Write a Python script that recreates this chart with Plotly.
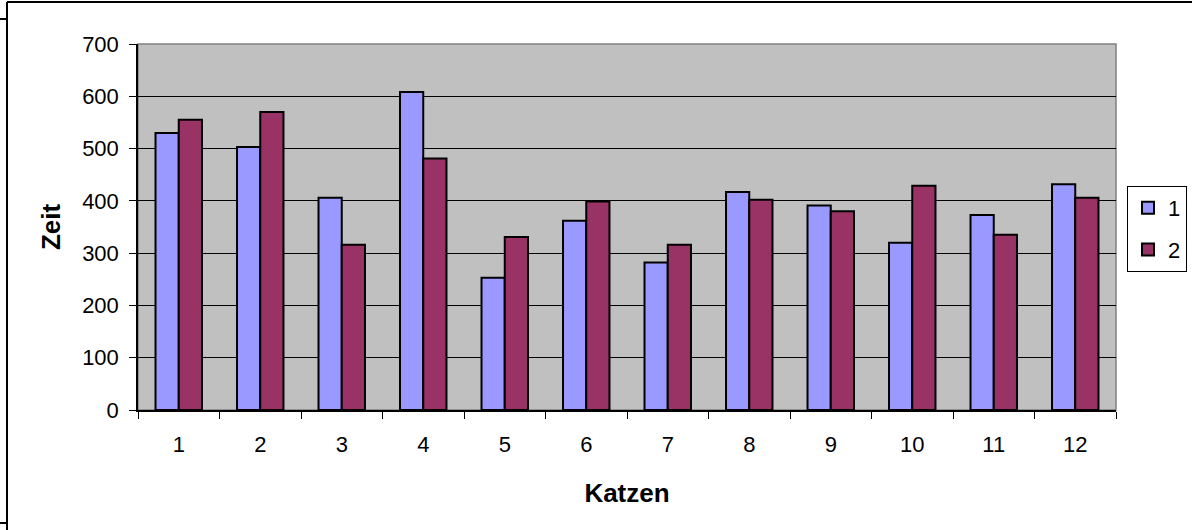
import plotly.graph_objects as go

katzen = [str(i) for i in range(1, 13)]
zeit_1 = [530, 503, 406, 608, 253, 362, 282, 417, 391, 320, 373, 432]
zeit_2 = [555, 570, 316, 481, 331, 399, 316, 402, 380, 429, 335, 406]
y_ticks = [0, 100, 200, 300, 400, 500, 600, 700]

FONT = "Liberation Sans, Arial, sans-serif"

# Pixelrahmen des Plotbereichs (für Papierkoordinaten)
L, R, T, B = 138, 1116, 44, 410


def px_x(px):
    return (px - L) / (R - L)


def px_y(py):
    return (B - py) / (B - T)


fig = go.Figure()
fig.add_trace(go.Bar(x=katzen, y=zeit_1, name="1", legendgroup="a",
                     marker=dict(color="#9999FF", line=dict(color="black", width=2))))
fig.add_trace(go.Bar(x=katzen, y=zeit_2, name="2", legendgroup="b",
                     marker=dict(color="#993366", line=dict(color="black", width=2))))

# Rahmen des Diagrammbereichs (links/oben abgeschnitten)
frame = dict(type="line", xref="paper", yref="paper", line=dict(color="black", width=2))
shapes = [
    dict(frame, x0=px_x(7), x1=px_x(7), y0=px_y(2), y1=px_y(530)),
    dict(frame, x0=px_x(7), x1=px_x(1192), y0=px_y(2), y1=px_y(2)),
    dict(frame, x0=px_x(0), x1=px_x(7), y0=px_y(19), y1=px_y(19)),
    dict(frame, x0=px_x(0), x1=px_x(7), y0=px_y(523), y1=px_y(523)),
    # Plotrahmen oben/rechts grau
    dict(type="rect", xref="paper", yref="paper", x0=0, x1=1, y0=0, y1=1,
         line=dict(color="#808080", width=1.5), layer="below"),
]

fig.update_layout(
    width=1192, height=530,
    paper_bgcolor="white", plot_bgcolor="#C0C0C0",
    font=dict(family=FONT, size=22, color="black"),
    margin=dict(l=L, r=1192 - R, t=T, b=530 - B, autoexpand=False),
    barmode="group", bargap=0.43, bargroupgap=0,
    showlegend=True,
    legend=dict(x=px_x(1127), y=px_y(186), xanchor="left", yanchor="top",
                bgcolor="white", bordercolor="black", borderwidth=1,
                font=dict(size=22), itemwidth=30, tracegroupgap=10),
    shapes=shapes,
    xaxis=dict(title=dict(text="<b>Katzen</b>", standoff=28), showgrid=False,
               showline=True, linecolor="black", linewidth=1.5,
               ticks="outside", ticklen=7, tickcolor="black", tickson="boundaries",
               ticklabelstandoff=14, tickfont=dict(size=22)),
    yaxis=dict(title=dict(text="<b>Zeit</b>", standoff=14), range=[0, 700],
               tickvals=y_ticks, showgrid=True, gridcolor="black", gridwidth=1,
               showline=True, linecolor="black", linewidth=1.5,
               ticks="outside", ticklen=7, tickcolor="black",
               ticklabelstandoff=6, zeroline=False, tickfont=dict(size=22)),
)

fig.write_html("out.html", config={"displayModeBar": False},
               post_script="document.body.style.margin = '0';")
